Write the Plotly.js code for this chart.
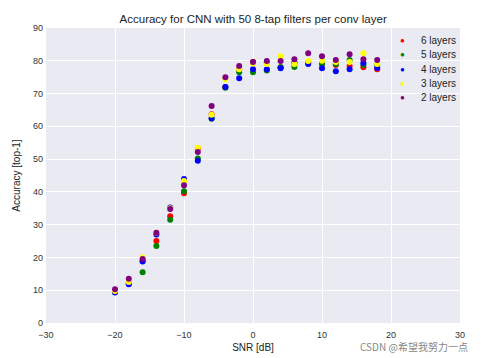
<!DOCTYPE html>
<html><head><meta charset="utf-8">
<script src="https://cdn.plot.ly/plotly-3.0.1.min.js"></script>
<style>html,body{margin:0;padding:0;background:#fff}</style>
</head><body><div id="chart" style="width:485px;height:358px"></div>
<script>
const snr = [-20,-18,-16,-14,-12,-10,-8,-6,-4,-2,0,2,4,6,8,10,12,14,16,18];
const acc6 = [9.5,12.0,19.0,25.0,32.6,39.6,53.2,63.7,72.0,77.4,79.6,79.5,78.0,79.0,79.5,79.0,78.7,78.4,78.0,77.4];
const acc5 = [9.8,12.3,15.5,23.5,31.5,40.2,50.2,62.3,71.8,76.5,76.5,77.0,78.0,78.1,79.5,79.0,79.0,80.2,78.7,78.7];
const acc4 = [9.3,11.8,18.8,27.0,35.2,43.9,49.5,62.5,72.0,74.7,77.4,77.4,77.7,79.5,79.0,77.7,76.8,77.4,79.3,77.8];
const acc3 = [9.8,12.5,20.0,27.5,35.0,43.3,53.5,63.5,74.4,77.4,79.2,79.0,81.4,79.0,79.9,80.0,79.6,79.6,82.3,79.0];
const acc2 = [10.3,13.5,19.5,27.5,34.8,42.0,52.2,66.2,75.0,78.4,79.6,79.9,79.9,80.5,82.3,81.4,80.2,82.0,80.5,80.2];
const names = ['6 layers','5 layers','4 layers','3 layers','2 layers'];
const colors = ['#ff0000','#008000','#0000ff','#ffff00','#800080'];
const series = [acc6,acc5,acc4,acc3,acc2];
const traces = series.map((ys,i)=>({
  x: snr, y: ys, type:'scatter', mode:'markers', name: names[i],
  marker:{color:colors[i], size:6, line:{width:0}}
}));
const axisFont = {family:'Liberation Sans, Arial, sans-serif', size:9, color:'#333'};
// compact legend (matplotlib-style spacing) built from names/colors
const legendAnn = [];
names.forEach((n,i)=>{
  const yy = 0.956 - i*0.0475;
  legendAnn.push({text:'●', xref:'paper', yref:'paper', x:0.86, y:yy, xanchor:'center', yanchor:'middle', showarrow:false,
    font:{size:8, color:colors[i]}});
  legendAnn.push({text:n, xref:'paper', yref:'paper', x:0.9, y:yy, xanchor:'left', yanchor:'middle', showarrow:false,
    font:{size:10, color:'#222'}});
});
const layout = {
  width:485, height:358,
  margin:{l:46, r:25, t:28, b:35},
  paper_bgcolor:'#ffffff', plot_bgcolor:'#EAEAF2',
  font:{family:'Liberation Sans, Arial, sans-serif', color:'#222'},
  title:{text:'Accuracy for CNN with 50 8-tap filters per conv layer', font:{size:11.5, color:'#222'}, x:0.522, xanchor:'center', y:0.947, yanchor:'middle'},
  xaxis:{range:[-30,30], dtick:10, tick0:-30, showgrid:true, gridcolor:'#ffffff', gridwidth:1, zeroline:false, showline:false, ticks:'', tickfont:axisFont, ticklabelstandoff:5,
    title:{text:'SNR [dB]', font:{size:10, color:'#222'}, standoff:4}},
  yaxis:{range:[0,90], dtick:10, showgrid:true, gridcolor:'#ffffff', gridwidth:1, zeroline:false, showline:false, ticks:'', tickfont:axisFont, ticklabelstandoff:2,
    title:{text:'Accuracy [top-1]', font:{size:10, color:'#222'}, standoff:10}},
  showlegend:false,
  annotations:legendAnn.concat([{text:'CSDN @希望我努力一点', xref:'paper', yref:'paper', x:1.025, y:-0.08, xanchor:'right', yanchor:'middle', showarrow:false,
    font:{family:'Noto Sans CJK SC, sans-serif', size:10, color:'#888'}}])
};
Plotly.newPlot('chart', traces, layout, {displayModeBar:false, staticPlot:true});
</script></body></html>
